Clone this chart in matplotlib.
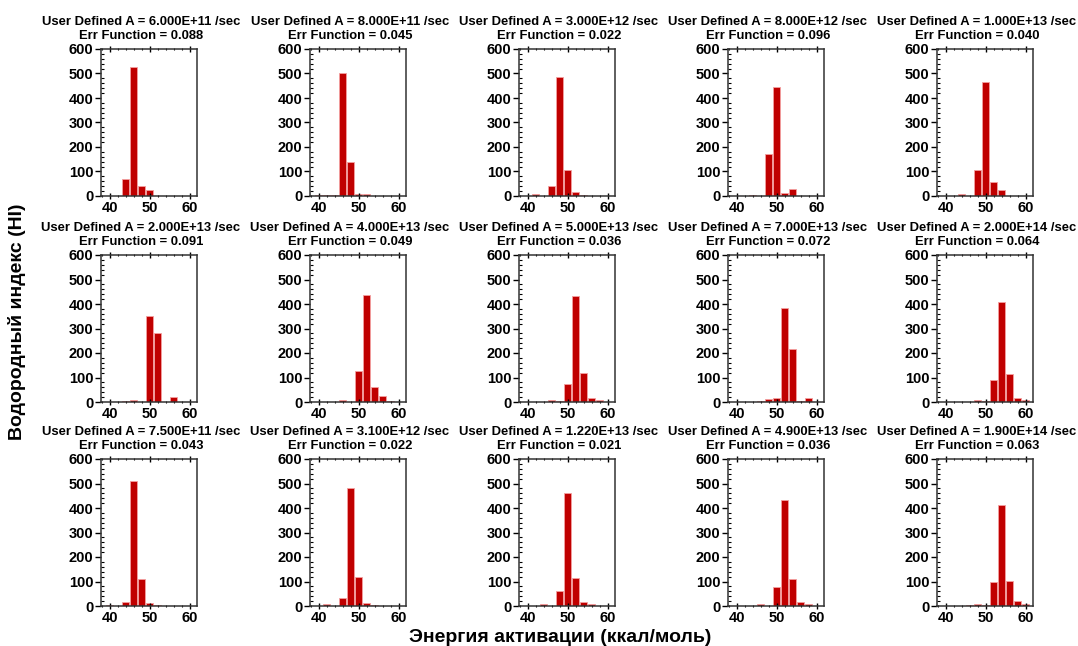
import numpy as np
import matplotlib.pyplot as plt
from matplotlib.ticker import MultipleLocator

plt.rcParams['font.family'] = ['Liberation Sans', 'DejaVu Sans']
plt.rcParams['font.weight'] = 'bold'

# энергии активации (ккал/моль)
energy = [40, 42, 44, 46, 48, 50, 52, 54, 56, 58, 60]

a_labels = ['6.000E+11', '8.000E+11', '3.000E+12', '8.000E+12', '1.000E+13',
            '2.000E+13', '4.000E+13', '5.000E+13', '7.000E+13', '2.000E+14',
            '7.500E+11', '3.100E+12', '1.220E+13', '4.900E+13', '1.900E+14']
err_values = ['0.088', '0.045', '0.022', '0.096', '0.040',
              '0.091', '0.049', '0.036', '0.072', '0.064',
              '0.043', '0.022', '0.021', '0.036', '0.063']

hi_values = [
    [0, 0, 70, 525, 40, 25, 0, 0, 0, 0, 0],
    [5, 3, 3, 500, 137, 7, 7, 0, 0, 0, 0],
    [0, 7, 0, 40, 485, 108, 15, 5, 0, 0, 0],
    [0, 0, 3, 0, 170, 445, 12, 30, 0, 0, 0],
    [0, 0, 7, 0, 105, 465, 57, 25, 0, 0, 0],
    [0, 0, 5, 7, 0, 350, 280, 0, 20, 0, 0],
    [0, 0, 0, 10, 0, 125, 435, 60, 25, 3, 0],
    [0, 0, 0, 10, 3, 72, 433, 117, 17, 7, 0],
    [0, 0, 0, 5, 12, 15, 383, 218, 5, 17, 0],
    [0, 0, 0, 0, 10, 5, 90, 410, 115, 17, 7],
    [5, 0, 15, 510, 112, 12, 5, 0, 0, 0, 0],
    [0, 7, 0, 33, 480, 120, 12, 5, 0, 0, 0],
    [0, 0, 8, 0, 62, 462, 115, 15, 7, 0, 0],
    [0, 0, 0, 10, 0, 77, 432, 112, 17, 7, 0],
    [0, 0, 0, 3, 10, 3, 100, 412, 102, 20, 8],
]

W, H = 1078, 646
fig = plt.figure(figsize=(W / 100, H / 100), dpi=100)

for i in range(15):
    row, col = i // 5, i % 5
    left = 101 + col * 209
    top = [49, 255, 459][row]
    ax = fig.add_axes([left / W, 1 - (top + 147) / H, 96 / W, 147 / H])
    ax.bar(energy, hi_values[i], width=1.7, color='#c00000',
           edgecolor='#f4a0a0', linewidth=0.6)
    ax.set_xlim(37.8, 61.8)
    ax.set_ylim(0, 600)
    ax.set_xticks([40, 50, 60])
    ax.set_yticks(range(0, 601, 100))
    ax.xaxis.set_minor_locator(MultipleLocator(2))
    ax.yaxis.set_minor_locator(MultipleLocator(20))
    ax.tick_params(axis='both', which='major', labelsize=10.5, length=4,
                   width=1, pad=1.5)
    ax.tick_params(axis='both', which='minor', length=2, width=0.8)
    ax.tick_params(axis='x', which='both', top=True, direction='inout')
    ax.tick_params(axis='y', which='minor', direction='in')
    for lab in ax.get_xticklabels() + ax.get_yticklabels():
        lab.set_fontweight('bold')
    for s in ax.spines.values():
        s.set_linewidth(1.1)
        s.set_color('#333333')
    # заголовок немного смещён влево, как в оригинале
    ax.text(0.5 - 8 / 96, 1 + 7 / 147,
            'User Defined A = %s /sec\nErr Function = %s'
            % (a_labels[i], err_values[i]),
            transform=ax.transAxes, ha='center', va='bottom',
            fontsize=9.4, fontweight='bold', linespacing=1.2)

fig.text(560 / W, 1 - 637 / H, 'Энергия активации (ккал/моль)',
         ha='center', va='center', fontsize=14, fontweight='bold')
fig.text(17 / W, 1 - 322 / H, 'Водородный индекс (HI)', rotation=90,
         ha='center', va='center', fontsize=14, fontweight='bold')

fig.savefig('out.png', dpi=100)
